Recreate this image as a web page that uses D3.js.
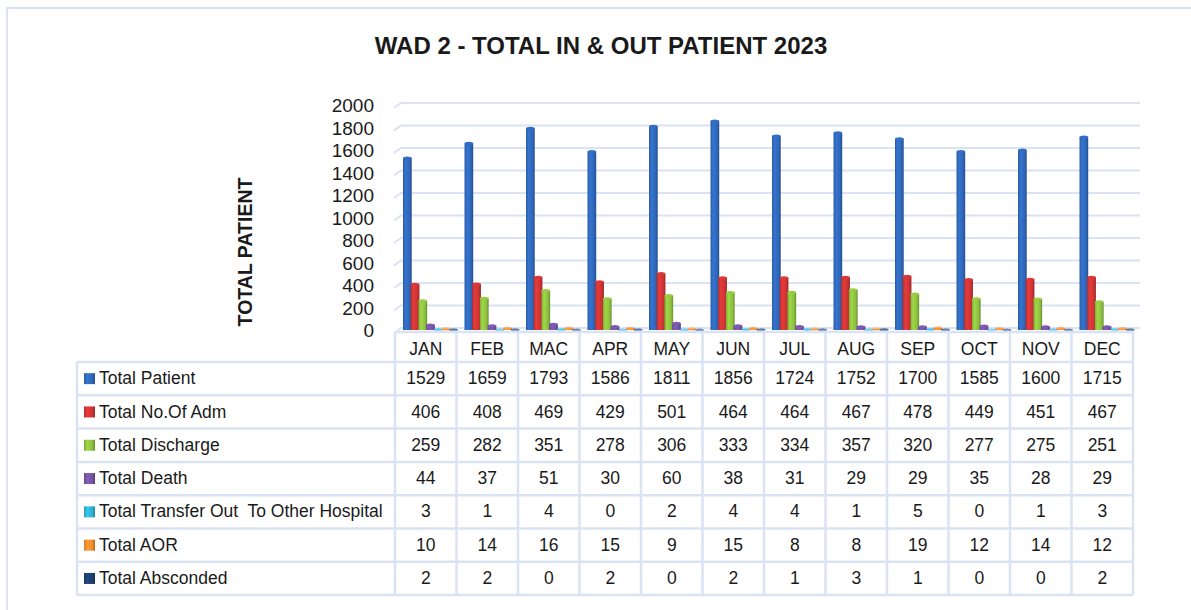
<!DOCTYPE html>
<html>
<head>
<meta charset="utf-8">
<script src="https://cdn.jsdelivr.net/npm/d3@7"></script>
<style>
  body { margin: 0; background: #fff; }
  text { font-family: "Liberation Sans", Arial, sans-serif; fill: #1a1a1a; white-space: pre; }
</style>
</head>
<body>
<svg id="chart" width="1191" height="610"></svg>
<script>
var months = ["JAN","FEB","MAC","APR","MAY","JUN","JUL","AUG","SEP","OCT","NOV","DEC"];
var seriesNames = ["Total Patient","Total No.Of Adm","Total Discharge","Total Death",
  "Total Transfer Out  To Other Hospital","Total AOR","Total Absconded"];
var totalPatient   = [1529,1659,1793,1586,1811,1856,1724,1752,1700,1585,1600,1715];
var totalAdm       = [406,408,469,429,501,464,464,467,478,449,451,467];
var totalDischarge = [259,282,351,278,306,333,334,357,320,277,275,251];
var totalDeath     = [44,37,51,30,60,38,31,29,29,35,28,29];
var totalTransfer  = [3,1,4,0,2,4,4,1,5,0,1,3];
var totalAOR       = [10,14,16,15,9,15,8,8,19,12,14,12];
var totalAbsconded = [2,2,0,2,0,2,1,3,1,0,0,2];
var yTicks = [0,200,400,600,800,1000,1200,1400,1600,1800,2000];
var colors = ["#2f66b8","#cc3433","#8cbf3f","#7453a3","#2fb0d2","#f08a2c","#1e3f72"];

var series = [totalPatient,totalAdm,totalDischarge,totalDeath,totalTransfer,totalAOR,totalAbsconded];

var svg = d3.select("#chart");
var gridColor = "#dae3f3";

// outer frame
svg.append("rect").attr("x",7).attr("y",8).attr("width",1200).attr("height",620)
  .attr("fill","none").attr("stroke",gridColor).attr("stroke-width",2);

svg.append("text").attr("x",601).attr("y",54).attr("text-anchor","middle")
  .style("font-size","24px").style("font-weight","bold")
  .text("WAD 2 - TOTAL IN & OUT PATIENT 2023");

var x = d3.scaleBand().domain(months).range([395,1133]);
var xInner = d3.scaleBand().domain(d3.range(series.length)).range([8,62]);
var y = d3.scaleLinear().domain([0,2000]).range([330,105]);

// gradients for the 3d-ish bars
var defs = svg.append("defs");
colors.forEach(function(c, i){
  var g = defs.append("linearGradient").attr("id","grad"+i).attr("x1","0").attr("x2","1").attr("y1","0").attr("y2","0");
  var base = d3.color(c);
  g.append("stop").attr("offset","0%").attr("stop-color", base.darker(0.3));
  g.append("stop").attr("offset","30%").attr("stop-color", base.brighter(0.35));
  g.append("stop").attr("offset","75%").attr("stop-color", base);
  g.append("stop").attr("offset","100%").attr("stop-color", base.darker(0.8));
});

// gridlines (with a little slant on the left wall)
var grid = svg.append("g");
yTicks.forEach(function(t){
  var yy = y(t) - 2;
  grid.append("path")
    .attr("d","M394,"+(yy+5)+"L401,"+yy+"L1140,"+yy)
    .attr("fill","none").attr("stroke",gridColor).attr("stroke-width",2);
});

// y axis labels
svg.append("g").selectAll("text").data(yTicks).enter().append("text")
  .attr("x",374).attr("y",function(d){ return y(d)+2; })
  .attr("text-anchor","end").attr("dominant-baseline","middle")
  .style("font-size","19px")
  .text(function(d){ return d; });

svg.append("text").attr("transform","translate(252,252) rotate(-90)")
  .attr("text-anchor","middle").style("font-size","19.5px").style("font-weight","bold")
  .text("TOTAL PATIENT");

// bars
var barW = xInner.bandwidth() + 1;
series.forEach(function(vals, si){
  var g = svg.append("g");
  g.selectAll("rect").data(vals).enter().append("rect")
    .attr("x",function(d,i){ return x(months[i]) + xInner(si); })
    .attr("y",function(d){ return y(d); })
    .attr("width",barW)
    .attr("height",function(d){ return Math.max(0, y(0)-y(d)); })
    .attr("fill","url(#grad"+si+")");
  g.selectAll("ellipse").data(vals).enter().append("ellipse")
    .attr("cx",function(d,i){ return x(months[i]) + xInner(si) + barW/2; })
    .attr("cy",function(d){ return y(d); })
    .attr("rx",barW/2).attr("ry",1.6)
    .attr("fill",d3.color(colors[si]).brighter(0.2))
    .attr("opacity", si >= 4 ? 0.6 : 1);
});

// data table
var rowTop = 362, rowH = 33.3, headTop = 332;
var tbl = svg.append("g");
var x0 = 77, x1 = 395, xEnd = 1133;
var nRows = seriesNames.length;
var tableBottom = rowTop + rowH*nRows;

tbl.append("line").attr("x1",x1).attr("x2",xEnd).attr("y1",headTop).attr("y2",headTop);
d3.range(nRows+1).forEach(function(r){
  tbl.append("line").attr("x1",x0).attr("x2",xEnd).attr("y1",rowTop+r*rowH).attr("y2",rowTop+r*rowH);
});
tbl.append("line").attr("x1",x0).attr("x2",x0).attr("y1",rowTop).attr("y2",tableBottom);
d3.range(months.length+1).forEach(function(c){
  var xx = x1 + c*x.bandwidth();
  tbl.append("line").attr("x1",xx).attr("x2",xx).attr("y1",headTop).attr("y2",tableBottom);
});
tbl.selectAll("line").attr("stroke",gridColor).attr("stroke-width",2.5);

svg.append("g").selectAll("text").data(months).enter().append("text")
  .attr("x",function(d){ return x(d)+x.bandwidth()/2; })
  .attr("y",(headTop+rowTop)/2+3)
  .attr("text-anchor","middle").attr("dominant-baseline","middle")
  .style("font-size","17.5px").text(function(d){ return d; });

seriesNames.forEach(function(name, si){
  var cy = rowTop + si*rowH + rowH/2;
  svg.append("rect").attr("x",84).attr("y",cy-5.5).attr("width",11).attr("height",11)
    .attr("fill","url(#grad"+si+")");
  svg.append("text").attr("x",99).attr("y",cy+1).attr("dominant-baseline","middle")
    .style("font-size","17.5px").text(name);
  svg.append("g").selectAll("text").data(series[si]).enter().append("text")
    .attr("x",function(d,i){ return x(months[i])+x.bandwidth()/2; })
    .attr("y",cy+1).attr("text-anchor","middle").attr("dominant-baseline","middle")
    .style("font-size","17.5px").text(function(d){ return d; });
});
</script>
</body>
</html>
